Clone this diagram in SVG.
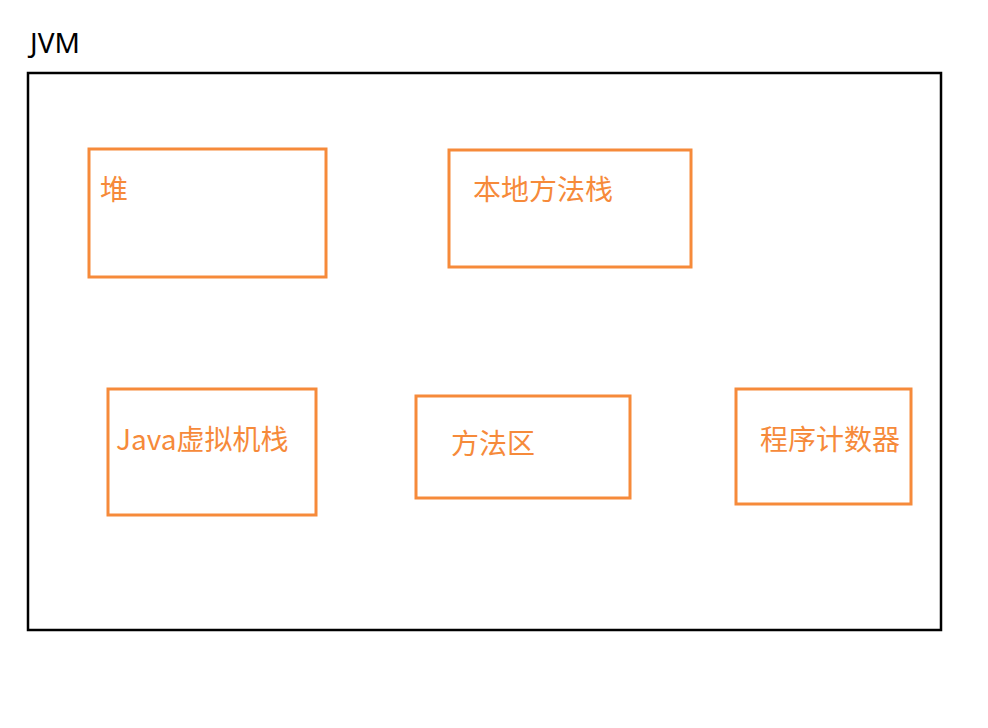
<svg xmlns="http://www.w3.org/2000/svg" width="988" height="728" viewBox="0 0 988 728">
<style>
.b{fill:none;stroke:#F68A3A;stroke-width:3}
.t{fill:#F68A3A;font-family:"Noto Sans CJK SC","Noto Sans",sans-serif;font-size:28px}
</style>
<rect width="988" height="728" fill="#fff"/>
<g id="jvm">
<rect x="28" y="73" width="913" height="557" fill="none" stroke="#000" stroke-width="2.5"/>
<text x="30" y="53" font-family="Noto Sans, sans-serif" font-size="28" fill="#000">JVM</text>
</g>
<g id="heap"><rect class="b" x="89" y="149" width="237" height="128"/><text class="t" x="100" y="200">堆</text></g>
<g id="native"><rect class="b" x="449" y="150" width="242" height="117"/><text class="t" x="473" y="200">本地方法栈</text></g>
<g id="jstack"><rect class="b" x="108" y="389" width="208" height="126"/><text class="t" x="116" y="450">Java虚拟机栈</text></g>
<g id="method"><rect class="b" x="416" y="396" width="214" height="102"/><text class="t" x="451" y="454">方法区</text></g>
<g id="pc"><rect class="b" x="736" y="389" width="175" height="115"/><text class="t" x="760" y="450">程序计数器</text></g>
<g id="connectors"/>
</svg>
